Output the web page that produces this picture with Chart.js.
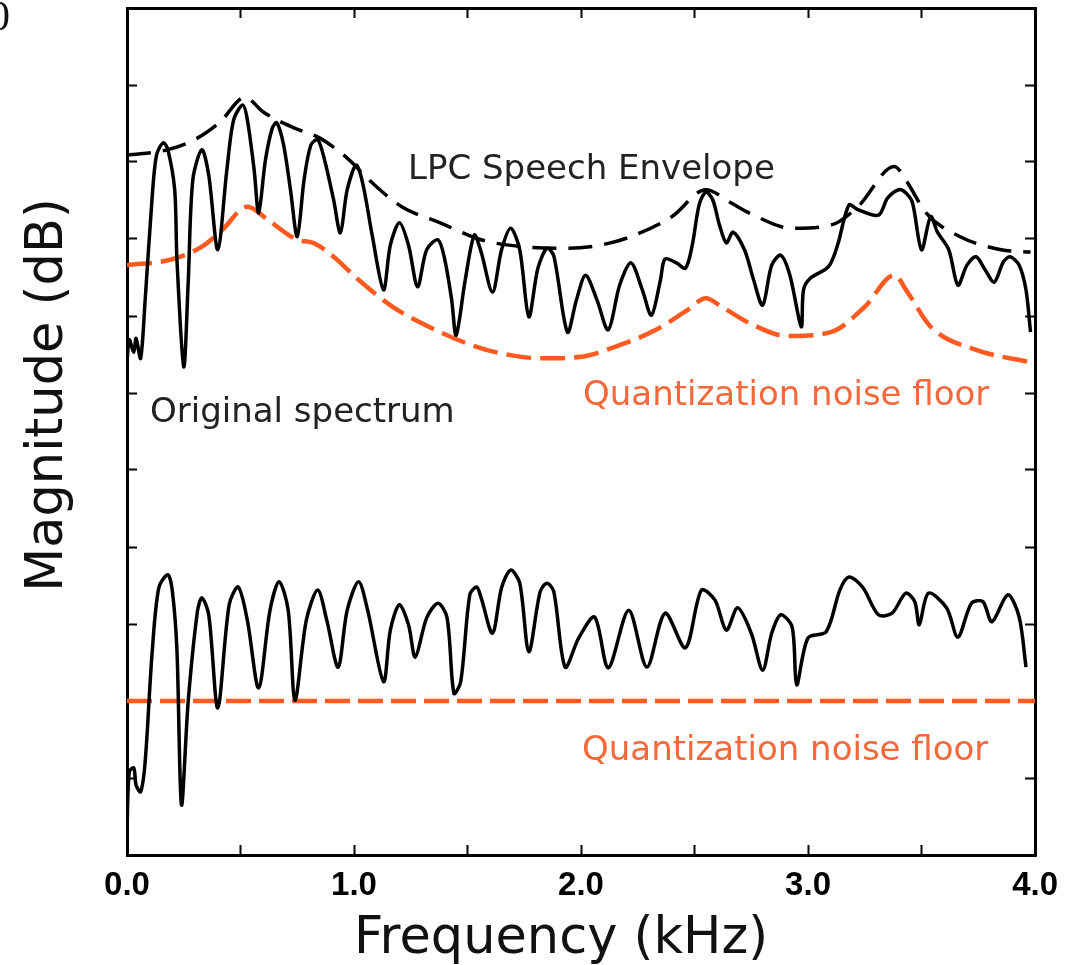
<!DOCTYPE html>
<html>
<head>
<meta charset="utf-8">
<script src="https://cdn.jsdelivr.net/npm/chart.js@4"></script>
<style>
  body { margin: 0; background: #fff; }
  canvas { display: block; }
</style>
</head>
<body>
<canvas id="chart" width="1079" height="965"></canvas>
<script>
// original spectrum (upper trace)
const origFreq = [0.00, 0.01, 0.03, 0.04, 0.06, 0.08, 0.11, 0.13, 0.16, 0.18, 0.21, 0.22, 0.25, 0.27, 0.29, 0.33,
  0.36, 0.40, 0.44, 0.47, 0.51, 0.53, 0.56, 0.58, 0.61, 0.64, 0.66, 0.69, 0.72, 0.75, 0.78, 0.81, 0.84, 0.87,
  0.91, 0.94, 0.97, 1.01, 1.04, 1.08, 1.13, 1.16, 1.20, 1.24, 1.28, 1.32, 1.37, 1.40, 1.43, 1.45, 1.49, 1.53,
  1.56, 1.61, 1.65, 1.69, 1.73, 1.77, 1.81, 1.85, 1.88, 1.94, 1.98, 2.02, 2.07, 2.12, 2.17, 2.22, 2.27, 2.31,
  2.35, 2.37, 2.42, 2.46, 2.49, 2.52, 2.55, 2.58, 2.61, 2.64, 2.67, 2.72, 2.76, 2.80, 2.84, 2.88, 2.92, 2.97,
  2.98, 3.01, 3.09, 3.13, 3.18, 3.22, 3.31, 3.35, 3.40, 3.43, 3.46, 3.50, 3.54, 3.57, 3.62, 3.66, 3.70, 3.74,
  3.78, 3.82, 3.86, 3.89, 3.93, 3.96, 3.98];
const origDb = [64.0, 66.9, 65.3, 67.1, 64.5, 72.1, 85.1, 90.9, 92.5, 91.6, 86.4, 77.3, 63.4, 74.7, 87.7, 91.6,
  88.3, 78.6, 89.0, 95.5, 97.4, 95.5, 89.0, 83.4, 90.3, 94.4, 95.1, 92.2, 86.4, 80.3, 87.7, 92.2, 92.9, 90.3,
  85.1, 80.8, 86.4, 89.6, 87.0, 80.5, 73.4, 79.2, 82.1, 79.2, 73.8, 78.6, 79.9, 77.3, 72.1, 67.5, 74.7, 80.5,
  78.3, 73.1, 78.6, 81.4, 78.6, 69.9, 76.2, 78.8, 77.8, 67.9, 72.1, 75.3, 72.1, 68.2, 74.0, 76.9, 73.4, 70.1,
  74.7, 77.4, 76.9, 76.2, 79.2, 84.4, 86.1, 85.1, 81.8, 79.5, 80.9, 78.6, 74.7, 71.4, 76.6, 77.9, 75.3, 68.6,
  73.4, 74.9, 76.4, 79.2, 84.4, 83.8, 83.1, 85.3, 86.4, 86.0, 84.7, 78.6, 82.9, 80.9, 78.6, 74.0, 76.6, 77.7,
  76.0, 74.4, 77.0, 77.7, 76.6, 73.4, 67.9];

// LPC speech envelope
const lpcFreq = [0.00, 0.18, 0.31, 0.41, 0.52, 0.60, 0.73, 0.85, 0.97, 1.08, 1.21, 1.38, 1.56, 1.74, 1.89,
  2.04, 2.20, 2.40, 2.55, 2.66, 2.74, 2.93, 3.10, 3.22, 3.38, 3.43, 3.52, 3.67, 3.85, 3.98];
const lpcDb = [90.9, 91.6, 93.1, 95.2, 98.4, 96.5, 94.5, 93.1, 90.5, 87.3, 84.2, 82.1, 79.9, 79.0, 78.8,
  79.0, 80.1, 82.9, 86.4, 84.7, 83.4, 81.4, 81.8, 84.2, 89.4, 87.7, 83.4, 80.3, 78.6, 78.3];

// shaped quantization noise floor (upper)
const shapedFreq = [0.00, 0.19, 0.33, 0.42, 0.53, 0.62, 0.75, 0.82, 0.91, 1.02, 1.17, 1.38, 1.52, 1.64, 1.83,
  2.00, 2.15, 2.33, 2.47, 2.55, 2.62, 2.74, 2.91, 3.10, 3.25, 3.38, 3.44, 3.54, 3.74, 3.98];
const shapedDb = [76.6, 77.3, 79.0, 81.2, 84.2, 82.5, 79.9, 79.5, 77.7, 74.7, 71.2, 67.9, 66.2, 65.2, 64.5,
  64.7, 66.0, 68.2, 70.8, 72.3, 71.2, 69.1, 67.4, 67.9, 71.2, 75.3, 73.0, 68.6, 65.6, 64.0];

// lower trace (spectrum against flat noise floor)
const flatFreq = [0.00, 0.01, 0.03, 0.04, 0.06, 0.08, 0.11, 0.14, 0.18, 0.20, 0.22, 0.24, 0.27, 0.31, 0.33,
  0.36, 0.40, 0.45, 0.49, 0.53, 0.58, 0.63, 0.67, 0.71, 0.74, 0.79, 0.84, 0.88, 0.93, 0.97, 1.02, 1.06, 1.13,
  1.16, 1.20, 1.24, 1.27, 1.32, 1.37, 1.41, 1.44, 1.47, 1.51, 1.54, 1.56, 1.61, 1.65, 1.69, 1.73, 1.77, 1.82,
  1.85, 1.88, 1.93, 1.99, 2.06, 2.12, 2.21, 2.29, 2.37, 2.46, 2.53, 2.59, 2.64, 2.69, 2.75, 2.80, 2.84, 2.88,
  2.93, 2.95, 3.00, 3.08, 3.14, 3.18, 3.24, 3.31, 3.37, 3.43, 3.47, 3.49, 3.53, 3.61, 3.66, 3.72, 3.77, 3.81,
  3.88, 3.93, 3.96];
const flatDb = [3.2, 10.8, 11.3, 9.1, 8.2, 12.1, 26.0, 34.7, 36.4, 34.2, 26.6, 6.5, 20.1, 31.6, 33.4,
  31.2, 19.1, 32.5, 34.8, 30.5, 21.7, 31.8, 35.5, 31.8, 20.1, 30.5, 34.4, 30.5, 24.4, 31.8, 35.5, 31.8, 22.5,
  29.2, 32.5, 29.9, 25.7, 30.8, 32.7, 30.8, 21.0, 22.5, 33.8, 34.8, 33.4, 28.8, 34.7, 37.0, 35.3, 26.4, 34.2,
  35.3, 34.2, 24.4, 28.2, 30.9, 24.3, 31.8, 24.4, 31.4, 26.9, 34.4, 33.1, 29.2, 32.1, 28.8, 24.0, 28.8, 31.2,
  29.6, 22.1, 28.2, 29.0, 34.4, 36.1, 34.8, 31.2, 31.4, 34.0, 32.9, 29.9, 34.0, 32.1, 28.3, 32.7, 32.9, 30.3,
  33.8, 30.9, 24.4];

// flat quantization noise floor (lower)
const floorFreq = [0, 4];
const floorDb = [20, 20];

const xMin = 0, xMax = 4, xStep = 0.5;
const yMin = 0, yMax = 110, yStep = 10;

const BLACK = '#000000';
const ORANGE = '#ff5a1f';
const LABEL_ORANGE = '#f4683a';

const notes = [
  { text: 'LPC Speech Envelope', x: 408, y: 179, color: '#222222' },
  { text: 'Original spectrum', x: 150, y: 422, color: '#222222' },
  { text: 'Quantization noise floor', x: 583, y: 405, color: LABEL_ORANGE },
  { text: 'Quantization noise floor', x: 582, y: 760, color: LABEL_ORANGE }
];

function pts(xs, ys) {
  return xs.map((x, i) => ({ x: x, y: ys[i] }));
}

function trace(data) {
  return {
    data: data,
    borderColor: BLACK,
    borderWidth: 3.5,
    pointRadius: 0,
    fill: false,
    tension: 0.3,
    borderJoinStyle: 'round'
  };
}

function dashed(data, color, width, dash) {
  return {
    data: data,
    borderColor: color,
    borderWidth: width,
    borderDash: dash,
    pointRadius: 0,
    fill: false,
    cubicInterpolationMode: 'monotone'
  };
}

const textPlugin = {
  id: 'texts',
  afterDraw(chart) {
    const ctx = chart.ctx;
    ctx.save();
    ctx.textBaseline = 'alphabetic';
    ctx.textAlign = 'left';
    ctx.font = '34px "DejaVu Sans"';
    notes.forEach(n => {
      ctx.fillStyle = n.color;
      ctx.fillText(n.text, n.x, n.y);
    });

    // axis titles
    ctx.fillStyle = '#111';
    ctx.font = '51px "DejaVu Sans"';
    ctx.textAlign = 'center';
    ctx.fillText('Frequency (kHz)', 561, 953);
    ctx.save();
    ctx.translate(62, 395);
    ctx.rotate(-Math.PI / 2);
    ctx.fillText('Magnitude (dB)', 0, 0);
    ctx.restore();

    // clipped panel letter at the top-left corner
    ctx.textAlign = 'left';
    ctx.font = '42px "Liberation Serif"';
    ctx.fillText('0', -11, 30);
    ctx.restore();
  }
};

const frameGrid = { drawOnChartArea: false, drawTicks: true, tickLength: -10, tickWidth: 2, tickColor: BLACK };
const frameBorder = { display: true, color: BLACK, width: 3 };

new Chart(document.getElementById('chart'), {
  type: 'line',
  data: {
    datasets: [
      trace(pts(origFreq, origDb)),
      dashed(pts(lpcFreq, lpcDb), BLACK, 3.5, [24, 12]),
      dashed(pts(shapedFreq, shapedDb), ORANGE, 4.5, [25, 9]),
      trace(pts(flatFreq, flatDb)),
      dashed(pts(floorFreq, floorDb), ORANGE, 4.5, [25, 8])
    ]
  },
  options: {
    responsive: false,
    animation: false,
    layout: { padding: { left: 0, right: 42, top: 8, bottom: 0 } },
    plugins: { legend: { display: false }, tooltip: { enabled: false } },
    scales: {
      x: {
        type: 'linear',
        position: 'bottom',
        min: xMin, max: xMax,
        grid: frameGrid,
        border: frameBorder,
        afterFit: s => { s.height = 110; },
        ticks: {
          stepSize: xStep,
          autoSkip: false,
          maxRotation: 0,
          padding: 21,
          color: BLACK,
          font: { family: '"Liberation Sans"', size: 33, weight: 'bold' },
          callback: v => Number.isInteger(v) ? v.toFixed(1) : ''
        }
      },
      x2: {
        type: 'linear',
        position: 'top',
        min: xMin, max: xMax,
        grid: frameGrid,
        border: frameBorder,
        afterFit: s => { s.height = 0; },
        ticks: { stepSize: xStep, display: false }
      },
      y: {
        type: 'linear',
        position: 'left',
        min: yMin, max: yMax,
        grid: frameGrid,
        border: frameBorder,
        afterFit: s => { s.width = 127; },
        ticks: { stepSize: yStep, display: false }
      },
      y2: {
        type: 'linear',
        position: 'right',
        min: yMin, max: yMax,
        grid: frameGrid,
        border: frameBorder,
        afterFit: s => { s.width = 0; },
        ticks: { stepSize: yStep, display: false }
      }
    }
  },
  plugins: [textPlugin]
});
</script>
</body>
</html>
